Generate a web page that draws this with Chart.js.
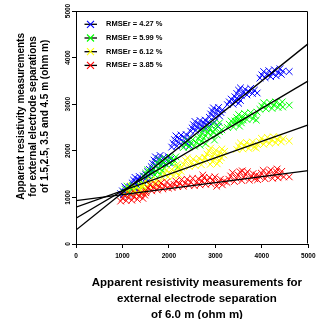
<!DOCTYPE html>
<html><head><meta charset="utf-8">
<script src="https://cdn.jsdelivr.net/npm/chart.js@4/dist/chart.umd.min.js"></script>
<style>html,body{margin:0;padding:0;background:#fff;overflow:hidden}canvas{display:block}</style>
</head><body>
<canvas id="c" width="320" height="319"></canvas>
<script>
const FONT = '"Liberation Sans", Arial, Helvetica, sans-serif';
const seriesLabels = ['RMSEr = 4.27 %','RMSEr = 5.99 %','RMSEr = 6.12 %','RMSEr = 3.85 %'];
const seriesColors = ['#0000ff','#00ff00','#ffff00','#ff0000'];
const fitIntercepts = [300, 555, 790, 930];
const fitSlopes = [0.80, 0.589, 0.353, 0.129];
const xTicks = [0,1000,2000,3000,4000,5000];
const yTicks = [0,1000,2000,3000,4000,5000];
const xTitle = ['Apparent resistivity measurements for','external electrode separation','of 6.0 m (ohm m)'];
const yTitle = ['Apparent resistivity measurements','for external electrode separations','of 1.5,2.5, 3.5 and 4.5 m (ohm m)'];

const bluePoints = [
 [960,1080],[1000,1140],[1020,1060],[1060,1110],[1080,1190],[1110,1070],[1140,1150],[1170,1230],[1190,1100],[1220,1170],[1250,1240],[1270,1110],[1300,1190],[1330,1250],[1340,1130],[1050,1230],
 [1210,1310],[1240,1370],[1270,1430],[1300,1330],[1330,1390],[1360,1450],[1390,1340],[1420,1400],[1450,1460],[1480,1360],[1510,1420],[1540,1470],[1550,1350],
 [1500,1490],[1540,1550],[1580,1600],[1610,1500],[1640,1570],
 [1620,1660],[1650,1730],[1680,1800],[1710,1870],[1720,1680],[1750,1750],[1780,1830],[1810,1900],[1830,1700],[1860,1780],[1890,1860],[1920,1720],[1950,1800],[1980,1880],[2010,1740],[2040,1820],
 [2060,2080],[2090,2160],[2120,2240],[2150,2320],[2170,2100],[2200,2180],[2230,2260],[2260,2340],[2280,2120],[2310,2200],[2340,2280],[2370,2350],[2390,2150],[2420,2230],[2450,2300],[2450,2110],
 [2470,2420],[2500,2490],[2530,2560],[2560,2630],[2580,2440],[2610,2510],[2640,2580],[2670,2650],[2690,2460],[2720,2530],[2750,2600],[2780,2660],[2800,2480],[2830,2550],[2850,2620],
 [2870,2720],[2900,2790],[2930,2860],[2960,2920],[2980,2730],[3010,2800],[3040,2870],[3070,2930],[3090,2750],[3120,2820],[3150,2880],
 [2900,2560],[2980,2620],[3060,2520],
 [3260,2990],[3300,3050],[3340,3110],[3380,3000],[3420,3070],[3460,3130],[3500,3020],[3540,3080],
 [3420,3160],[3460,3230],[3500,3300],[3540,3350],[3560,3180],[3600,3250],[3640,3320],[3680,3200],[3720,3270],[3760,3340],[3800,3230],[3840,3300],[3900,3240],
 [3960,3560],[4000,3630],[4040,3700],[4070,3570],[4110,3640],[4150,3720],[4190,3590],[4230,3660],[4270,3740],[4310,3610],[4350,3680],[4390,3760],[4420,3640],[4450,3710],[4590,3700]
];
const greenPoints = [
 [1020,1110],[1060,1170],[1100,1240],[1140,1120],[1180,1190],[1220,1260],[1260,1140],[1300,1210],[1340,1280],[1380,1160],[1420,1230],[1460,1300],[1490,1180],
 [1460,1450],[1500,1520],[1540,1590],[1580,1460],[1620,1530],[1660,1610],[1700,1480],[1740,1550],[1780,1630],[1820,1500],[1860,1570],[1900,1630],
 [1710,1660],[1750,1730],[1790,1810],[1830,1680],[1870,1760],[1910,1840],[1950,1700],[1990,1780],[2030,1860],[2070,1720],[2110,1800],[2150,1870],[2190,1650],
 [2310,2070],[2350,2140],[2390,2220],[2430,2080],[2470,2160],[2510,2240],[2550,2100],[2590,2180],[2630,2260],[2670,2120],[2710,2200],[2750,2270],[2790,2150],[2980,2230],
 [2660,2310],[2700,2380],[2740,2450],[2790,2320],[2830,2390],[2870,2460],[2910,2330],[2950,2400],[2990,2460],[3040,2340],[3090,2410],[3140,2450],
 [2870,2500],[2950,2580],[3030,2550],[3090,2600],
 [3260,2500],[3300,2570],[3340,2640],[3390,2510],[3430,2580],[3470,2650],[3520,2530],[3560,2600],[3600,2660],
 [3420,2640],[3460,2710],[3500,2780],[3550,2650],[3590,2720],[3630,2800],[3680,2670],[3720,2740],[3760,2820],[3810,2690],[3850,2760],[3900,2830],[3880,2660],
 [3960,2890],[4000,2960],[4040,3030],[4090,2900],[4130,2970],[4170,3040],[4220,2910],[4260,2980],[4300,3050],[4350,2930],[4390,3000],[4440,3050],[4450,2940],[4590,2980]
];
const yellowPoints = [
 [1060,1060],[1100,1120],[1140,1190],[1180,1250],[1210,1080],[1250,1150],[1290,1220],[1330,1090],[1370,1160],[1410,1240],[1450,1110],[1490,1190],
 [1410,1210],[1450,1280],[1490,1350],[1530,1220],[1570,1290],[1610,1370],[1650,1240],[1690,1310],[1730,1380],[1770,1260],[1800,1330],
 [1860,1430],[1900,1500],[1940,1580],[1980,1440],[2020,1520],[2060,1600],[2100,1460],[2140,1540],[2180,1620],[2220,1480],[2260,1560],
 [2280,1640],[2320,1710],[2360,1790],[2400,1850],[2440,1660],[2480,1740],[2520,1820],[2570,1680],[2610,1760],[2650,1840],[2700,1700],[2740,1780],[2770,1850],[2170,1700],
 [2780,1860],[2820,1930],[2860,2000],[2900,2060],[2930,1870],[2970,1940],[3010,2010],[3060,1890],[3100,1960],[3140,2040],[3180,1910],[3200,1990],
 [2890,1710],[2940,1770],[2990,1840],[3040,1720],[3090,1790],[3130,1850],
 [3460,2030],[3500,2100],[3540,2170],[3590,2040],[3630,2110],[3670,2180],[3720,2050],[3760,2120],[3800,2190],[3840,2080],[3880,2060],
 [3910,2130],[3950,2200],[3990,2270],[4040,2140],[4080,2210],[4120,2290],[4170,2160],[4210,2230],[4250,2300],[4300,2170],[4340,2240],[4380,2300],[4420,2190],[4460,2260],[4590,2210]
];
const redPoints = [
 [960,920],[1000,980],[1040,1050],[1080,930],[1120,1000],[1160,1070],[1200,940],[1240,1010],[1280,1090],[1320,960],[1360,1030],[1400,1100],[1440,980],[1480,1050],[1500,1100],
 [1510,1130],[1550,1200],[1590,1270],[1630,1140],[1670,1210],[1710,1290],[1750,1160],[1790,1230],[1830,1310],[1870,1180],[1910,1250],[1950,1330],[1990,1200],[2030,1270],
 [2070,1210],[2110,1280],[2150,1350],[2190,1230],[2230,1300],[2270,1380],[2310,1240],[2350,1310],[2390,1390],[2430,1260],[2470,1330],[2510,1410],[2550,1250],[2590,1320],[2630,1400],
 [2670,1270],[2710,1350],[2750,1420],[2790,1280],[2830,1360],[2870,1430],[2910,1290],[2950,1370],[2990,1440],[3030,1240],[3070,1320],[3110,1390],[3150,1270],[3190,1350],[2730,1480],
 [3250,1320],[3290,1390],[3330,1460],[3370,1530],[3410,1340],[3450,1410],[3490,1480],[3530,1550],[3570,1360],[3610,1430],[3650,1500],[3690,1550],[3730,1370],[3770,1440],[3810,1510],[3850,1400],[3880,1480],[3580,1570],
 [3910,1380],[3950,1450],[3990,1520],[4030,1580],[4070,1400],[4110,1470],[4150,1540],[4190,1590],[4230,1410],[4270,1480],[4310,1550],[4350,1420],[4390,1490],[4430,1560],[4470,1440],[4330,1610],[4590,1440]
];
const seriesPoints = [bluePoints, greenPoints, yellowPoints, redPoints];

const datasets = [];
seriesPoints.forEach((pts, i) => {
  datasets.push({
    type: 'scatter', label: seriesLabels[i], isSeries: true, legendIndex: i,
    data: pts.map(p => ({x: p[0], y: p[1]})),
    pointStyle: 'crossRot', pointRadius: 4.7, pointBorderWidth: 1,
    borderColor: seriesColors[i], backgroundColor: seriesColors[i],
    order: 10 - i
  });
});
fitIntercepts.forEach((a, i) => {
  datasets.push({
    type: 'line', label: 'fit' + i, isSeries: false,
    data: [{x: 0, y: a}, {x: 5000, y: a + 5000 * fitSlopes[i]}],
    borderColor: '#000', borderWidth: 1.3, pointRadius: 0, fill: false, tension: 0,
    order: 0
  });
});

const framePlugin = {
  id: 'frame',
  afterDraw(chart) {
    const {ctx, chartArea: a} = chart;
    ctx.save();
    ctx.strokeStyle = '#000'; ctx.lineWidth = 1;
    ctx.beginPath();
    ctx.moveTo(Math.round(a.left) + 0.5, Math.round(a.top) + 0.5);
    ctx.lineTo(Math.round(a.right) - 0.5, Math.round(a.top) + 0.5);
    ctx.lineTo(Math.round(a.right) - 0.5, Math.round(a.bottom) - 0.5);
    ctx.stroke();
    ctx.restore();
  }
};
const legendPlugin = {
  id: 'insideLegend',
  afterDraw(chart) {
    const {ctx, chartArea: a} = chart;
    ctx.save();
    chart.data.datasets.filter(d => d.isSeries).sort((p, q) => p.legendIndex - q.legendIndex).forEach((d, i) => {
      const y = a.top + 13.3 + i * 13.7;
      const cx = a.left + 14.5;
      ctx.strokeStyle = '#000'; ctx.lineWidth = 1.3;
      ctx.beginPath(); ctx.moveTo(a.left + 8.5, y); ctx.lineTo(a.left + 21, y); ctx.stroke();
      ctx.strokeStyle = d.borderColor; ctx.lineWidth = 1.1;
      const r = 3.5;
      ctx.beginPath();
      ctx.moveTo(cx - r, y - r); ctx.lineTo(cx + r, y + r);
      ctx.moveTo(cx - r, y + r); ctx.lineTo(cx + r, y - r);
      ctx.stroke();
      ctx.fillStyle = '#000';
      ctx.font = 'bold 7.5px ' + FONT;
      ctx.textBaseline = 'middle'; ctx.textAlign = 'left';
      ctx.fillText(d.label, a.left + 30, y);
    });
    ctx.restore();
  }
};

new Chart(document.getElementById('c'), {
  type: 'scatter',
  data: { datasets },
  options: {
    responsive: false, animation: false,
    layout: { padding: { top: 11, right: 11, left: 0, bottom: 0 } },
    plugins: { legend: { display: false }, tooltip: { enabled: false } },
    scales: {
      x: {
        type: 'linear', min: 0, max: 5000,
        afterBuildTicks: s => { s.ticks = xTicks.map(v => ({value: v})); },
        ticks: { font: { family: FONT, size: 6.5, weight: 'bold' }, color: '#000', padding: 4.5, maxRotation: 0, autoSkip: false, callback: v => String(v) },
        grid: { display: true, drawOnChartArea: false, drawTicks: true, tickLength: 4, color: '#000', tickColor: '#000' },
        border: { display: true, color: '#000', width: 1 },
        title: { display: true, text: xTitle.map(t => '   ' + t), color: '#000',
          font: { family: FONT, size: 11.5, weight: 'bold', lineHeight: '16px' }, padding: { top: 0, bottom: -4 } },
        afterFit(s) { s.height = 75; }
      },
      y: {
        type: 'linear', min: 0, max: 5000,
        afterBuildTicks: s => { s.ticks = yTicks.map(v => ({value: v})); },
        ticks: { font: { family: FONT, size: 6.5, weight: 'bold' }, color: '#000', padding: -3.5, minRotation: 90, maxRotation: 90, crossAlign: 'center', autoSkip: false, callback: v => String(v) },
        grid: { display: true, drawOnChartArea: false, drawTicks: true, tickLength: 4, color: '#000', tickColor: '#000' },
        border: { display: true, color: '#000', width: 1 },
        title: { display: true, text: yTitle.map(t => '        ' + t), color: '#000',
          font: { family: FONT, size: 10, weight: 'bold', lineHeight: '12px' }, padding: { top: 15, bottom: 0 } },
        afterFit(s) { s.width = 76; }
      }
    }
  },
  plugins: [framePlugin, legendPlugin]
});
</script>
</body></html>
